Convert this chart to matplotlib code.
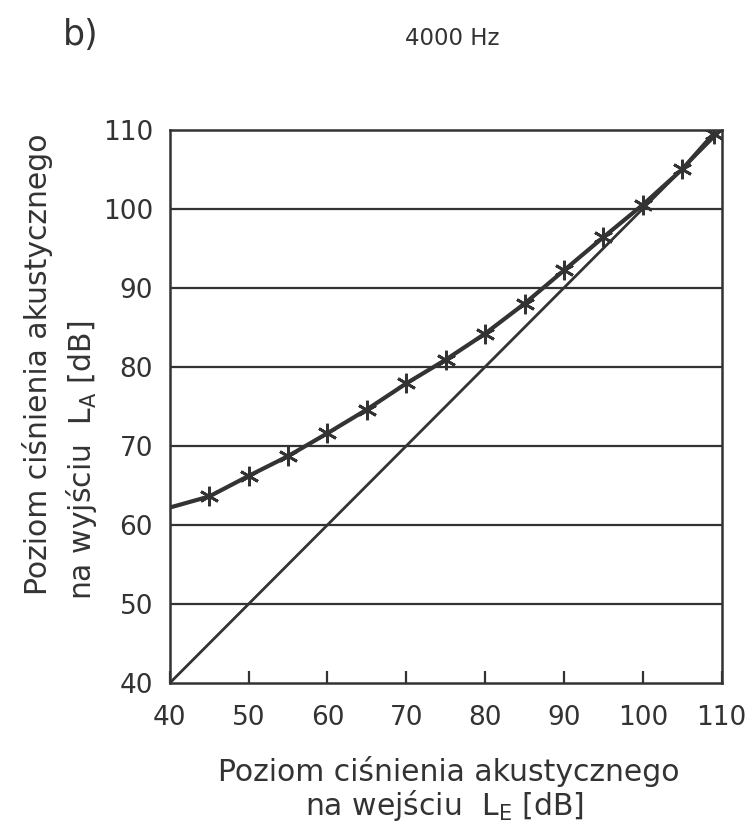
import matplotlib
matplotlib.use("Agg")
import matplotlib.pyplot as plt
from matplotlib import font_manager

# Input level L_E [dB] and measured output level L_A [dB] at 4000 Hz
input_level = [45, 50, 55, 60, 65, 70, 75, 80, 85, 90, 95, 100, 105, 109]
output_level = [63.6, 66.2, 68.7, 71.6, 74.6, 77.9, 80.9, 84.2, 88.0, 92.2, 96.4, 100.5, 105.0, 109.5]

# Fitted curve traced through the measurements, starting at the left axis
curve_x = [40, 45, 50, 55, 60, 65, 70, 75, 80, 85, 90, 95, 100, 105, 109]
curve_y = [62.2, 63.6, 66.2, 68.7, 71.6, 74.6, 77.9, 80.9, 84.2, 88.0, 92.2, 96.4, 100.5, 105.0, 109.5]

# Reference line L_A = L_E
ref_x = [40, 110]
ref_y = [40, 110]

ticks = [40, 50, 60, 70, 80, 90, 100, 110]
tick_labels = ["40", "50", "60", "70", "80", "90", "100", "110"]
grid_levels = [50, 60, 70, 80, 90, 100]

ink = "#333333"
plt.rcParams["font.family"] = ["DejaVu Sans"]
plt.rcParams["mathtext.fontset"] = "dejavusans"

# Narrow digits for the tick labels, if a condensed face is available
names = {f.name for f in font_manager.fontManager.ttflist}
if "Liberation Sans Narrow" in names:
    tick_font = dict(family="Liberation Sans Narrow", size=23)
else:
    tick_font = dict(family="DejaVu Sans", size=19)

fig = plt.figure(figsize=(7.51, 8.31), dpi=100)
ax = fig.add_axes([0.226, 0.178, 0.735, 0.666])

for g in grid_levels:
    ax.axhline(g, color=ink, lw=1.6, zorder=1)

ax.plot(ref_x, ref_y, color=ink, lw=2.0, zorder=2)
ax.plot(curve_x, curve_y, color=ink, lw=3.0, zorder=3, solid_capstyle="round")
ax.plot(input_level, output_level, linestyle="none", marker=(6, 2, 0),
        markersize=14, markeredgewidth=2.0, color=ink, zorder=4)

ax.set_xlim(40, 110)
ax.set_ylim(40, 110)
ax.set_xticks(ticks)
ax.set_xticklabels(tick_labels, fontfamily=tick_font["family"],
                   fontsize=tick_font["size"], color=ink)
ax.set_yticks(ticks)
ax.set_yticklabels(tick_labels, fontfamily=tick_font["family"],
                   fontsize=tick_font["size"], color=ink)
ax.tick_params(axis="x", direction="in", length=9, width=1.6, color=ink, pad=16)
ax.tick_params(axis="y", length=0, pad=12)
for s in ax.spines.values():
    s.set_color(ink)
    s.set_linewidth(1.8)

fig.text(0.602, 0.954, "4000 Hz", ha="center", va="center", fontsize=16.5, color=ink)
fig.text(0.108, 0.958, "b)", ha="center", va="center", fontsize=25, color=ink)

fig.text(0.598, 0.072, "Poziom ciśnienia akustycznego", ha="center", va="center",
         fontsize=21.5, color=ink)
fig.text(0.592, 0.031, r"na wejściu  L$_{\mathrm{E}}$ [dB]", ha="center", va="center",
         fontsize=21.5, color=ink)

fig.text(0.050, 0.284, "Poziom ciśnienia akustycznego", rotation=90, ha="center",
         va="bottom", fontsize=21.5, color=ink)
fig.text(0.109, 0.278, r"na wyjściu  L$_{\mathrm{A}}$ [dB]", rotation=90, ha="center",
         va="bottom", fontsize=21.5, color=ink)

fig.savefig("out.png", dpi=100, facecolor="white")
